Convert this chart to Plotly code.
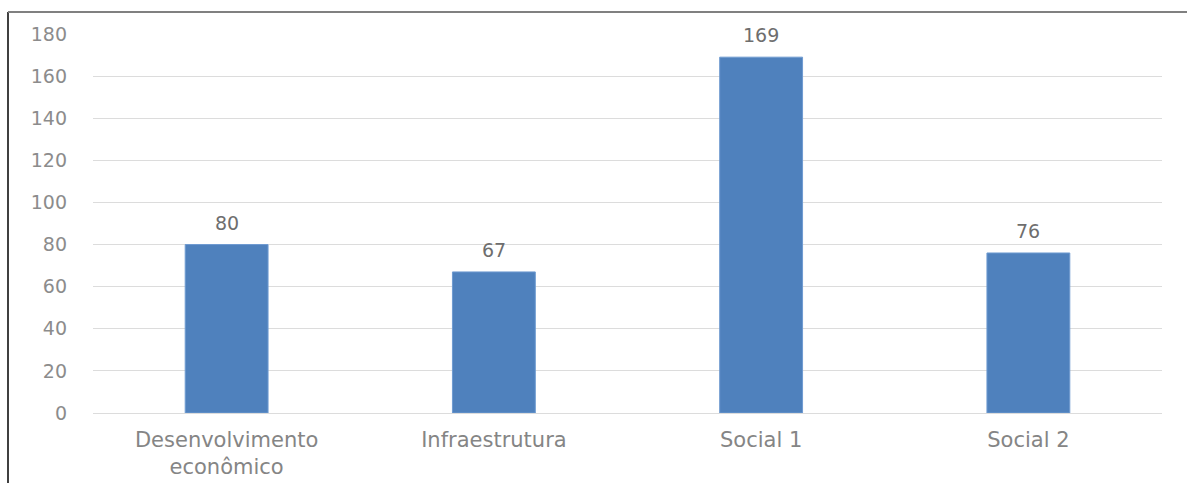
import plotly.graph_objects as go

categories = ["Desenvolvimento<br>econômico", "Infraestrutura", "Social 1", "Social 2"]
values = [80, 67, 169, 76]
y_ticks = [0, 20, 40, 60, 80, 100, 120, 140, 160, 180]

W, H = 1187, 483
L, R, T, B = 93, 25, 34, 70
pw, ph = W - L - R, H - T - B

def px_x(x):
    return (x - L) / pw

def px_y(y):
    return (H - B - y) / ph

fig = go.Figure(go.Bar(
    x=categories, y=values,
    marker=dict(color="#4f81bd", line=dict(color="#6f9bd1", width=1)),
    hoverinfo="x+y",
))

annotations = [
    dict(x=c, y=v, xref="x", yref="y", text=str(v), showarrow=False,
         yanchor="bottom", yshift=9,
         font=dict(family="DejaVu Sans", size=19, color="#6e6e6e"))
    for c, v in zip(categories, values)
]

fig.update_layout(
    width=W, height=H,
    margin=dict(l=L, r=R, t=T, b=B, autoexpand=False),
    paper_bgcolor="white", plot_bgcolor="white",
    bargap=0.69, showlegend=False,
    font=dict(family="DejaVu Sans", size=21, color="#808080"),
    xaxis=dict(showgrid=False, showline=False, ticks="", ticklabelstandoff=12,
               tickfont=dict(family="DejaVu Sans", size=21, color="#858585")),
    yaxis=dict(range=[0, 180], tickvals=y_ticks, showgrid=True, gridcolor="#dcdcdc", gridwidth=1,
               zeroline=True, zerolinecolor="#dcdcdc", zerolinewidth=1, ticks="", ticklabelstandoff=25,
               tickfont=dict(family="DejaVu Sans", size=19, color="#8c8c8c")),
    shapes=[
        dict(type="line", xref="paper", yref="paper", x0=px_x(8), x1=px_x(8), y0=px_y(12), y1=px_y(H + 5),
             line=dict(color="#404040", width=2)),
        dict(type="line", xref="paper", yref="paper", x0=px_x(8), x1=px_x(W + 5), y0=px_y(12), y1=px_y(12),
             line=dict(color="#808080", width=2)),
    ],
    annotations=annotations,
)
fig.write_html("out.html", config={"displayModeBar": False},
               post_script="document.body.style.margin='0';document.body.style.overflow='hidden';")
